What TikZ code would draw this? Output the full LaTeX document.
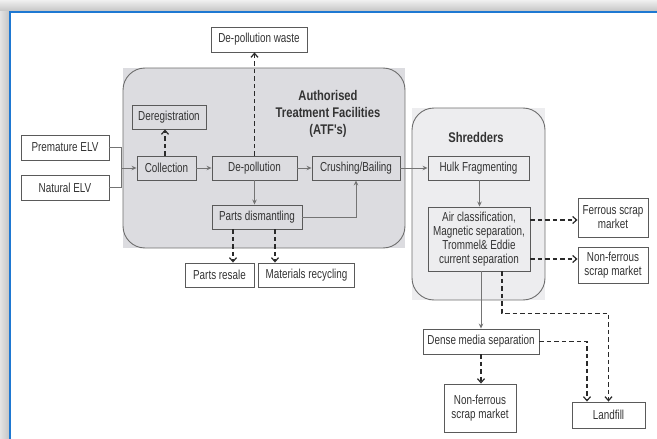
\documentclass[tikz,border=0pt]{standalone}
\usepackage{fontspec}
\setmainfont[FakeStretch=0.76]{Liberation Sans}
\newfontfamily\titlefont[FakeStretch=0.8]{Liberation Sans}
\usetikzlibrary{arrows.meta}
\definecolor{txt}{HTML}{333333}
\definecolor{boxc}{HTML}{5A5A5A}
\definecolor{solidc}{HTML}{747474}
\definecolor{dashc}{HTML}{2A2A2A}
\definecolor{atffill}{HTML}{DCDCE0}
\definecolor{shrfill}{HTML}{EDEDEF}
\definecolor{contc}{HTML}{6E6E6E}
\definecolor{framec}{HTML}{1E78D2}
\begin{document}
\begin{tikzpicture}[x=1pt,y=-1pt,
  box/.style={draw=boxc, line width=0.9pt, text=txt, font=\fontsize{13}{14}\selectfont, align=center, inner sep=0pt},
  flow/.style={draw=solidc, line width=1pt, -{Stealth[length=5pt,width=4.5pt]}},
  plain/.style={draw=solidc, line width=1pt},
  dflow/.style={draw=dashc, line width=1.4pt, dash pattern=on 4.5pt off 3pt, -{Straight Barb[length=4pt,width=7pt,line width=1.2pt]}},
  title/.style={text=txt, font=\titlefont\fontsize{14}{17}\selectfont\bfseries, align=center}
]
\useasboundingbox (0,0) rectangle (657,439);
\fill[white] (0,0) rectangle (657,439);
% frame shadow
\shade[top color=gray!12, bottom color=gray!45] (0,0) rectangle (657,11);
\shade[left color=gray!22, right color=gray!45] (0,11) rectangle (9,439);
\draw[framec, line width=2pt] (9.5,439) -- (9.5,11.5) -- (657,11.5);

% containers
\fill[atffill] (123,68) rectangle (405,248);
\draw[contc, line width=0.9pt, rounded corners=22pt] (123,68) rectangle (405,248);
\fill[shrfill] (412,108) rectangle (545,300);
\draw[contc, line width=0.9pt, rounded corners=22pt] (412,108) rectangle (545,300);

\node[title] (atft) at (328,114) {Authorised\\Treatment Facilities\\(ATF's)};
\node[title] (shrt) at (476,137) {Shredders};

% nodes
\node[box, minimum width=96pt, minimum height=25pt] (dpw) at (259,39.5) {De-pollution waste};
\node[box, minimum width=74pt, minimum height=24pt] (dereg) at (169,117) {Deregistration};
\node[box, minimum width=88pt, minimum height=25pt] (prem) at (65,147.5) {Premature ELV};
\node[box, minimum width=88pt, minimum height=25pt] (nat) at (65,187.5) {Natural ELV};
\node[box, minimum width=59pt, minimum height=24pt] (coll) at (166.5,168) {Collection};
\node[box, minimum width=85pt, minimum height=24pt] (depol) at (254.5,168) {De-pollution};
\node[box, minimum width=88pt, minimum height=24pt] (crush) at (356,168) {Crushing/Bailing};
\node[box, minimum width=90pt, minimum height=24pt] (parts) at (257,217) {Parts dismantling};
\node[box, minimum width=69pt, minimum height=24pt] (resale) at (219.5,275) {Parts resale};
\node[box, minimum width=96pt, minimum height=24pt] (matrec) at (306.5,275) {Materials recycling};
\node[box, minimum width=101pt, minimum height=24pt] (hulk) at (478.5,168) {Hulk Fragmenting};
\node[box, minimum width=102pt, minimum height=64pt] (air) at (479,239) {Air classification,\\Magnetic separation,\\Trommel\& Eddie\\current separation};
\node[box, minimum width=70pt, minimum height=39pt] (ferr) at (613,217.5) {Ferrous scrap\\market};
\node[box, minimum width=70pt, minimum height=36pt] (nfr) at (613,265) {Non-ferrous\\scrap market};
\node[box, minimum width=116pt, minimum height=25pt] (dense) at (481,341.5) {Dense media separation};
\node[box, minimum width=72pt, minimum height=48pt] (nfb) at (480,408) {Non-ferrous\\scrap market};
\node[box, minimum width=73pt, minimum height=26pt] (land) at (608.5,415) {Landfill};

% connectors
\coordinate (j) at (121,168);
\coordinate (af) at ([yshift=19pt]air.east);
\coordinate (an) at ([yshift=-20pt]air.east);
\coordinate (al) at ([xshift=23pt]air.south);
\coordinate (ld) at ([xshift=-21.5pt]land.north);
\coordinate (pr) at ([xshift=-24pt]parts.south);
\coordinate (pm) at ([xshift=18pt]parts.south);
\coordinate (cd) at ([xshift=-1.5pt]coll.north);
\coordinate (hd) at ([xshift=1pt]hulk.south);
\coordinate (ad) at ([xshift=2pt]air.south);
\draw[plain] (prem.east) -| (j);
\draw[plain] (nat.east) -| (j);
\draw[flow] (j) -- (coll.west);
\draw[flow] (coll.east) -- (depol.west);
\draw[flow] (depol.east) -- (crush.west);
\draw[flow] (crush.east) -- (hulk.west);
\draw[dflow] (cd) -- (cd |- dereg.south);
\draw[dflow] (depol.north) -- (depol.north |- dpw.south);
\draw[flow] (depol.south) -- (depol.south |- parts.north);
\draw[flow] (parts.east) -| (crush.south);
\draw[dflow] (pr) -- (pr |- resale.north);
\draw[dflow] (pm) -- (pm |- matrec.north);
\draw[flow] (hd) -- (hd |- air.north);
\draw[dflow] (af) -- (ferr.west |- af);
\draw[dflow] (an) -- (nfr.west |- an);
\draw[flow] (ad) -- (ad |- dense.north);
\draw[dflow] (al) -- ++(0,42) -| (land.north);
\draw[dflow] (dense.east) -| (ld);
\draw[dflow] (dense.south) -- (dense.south |- nfb.north);
\end{tikzpicture}
\end{document}
